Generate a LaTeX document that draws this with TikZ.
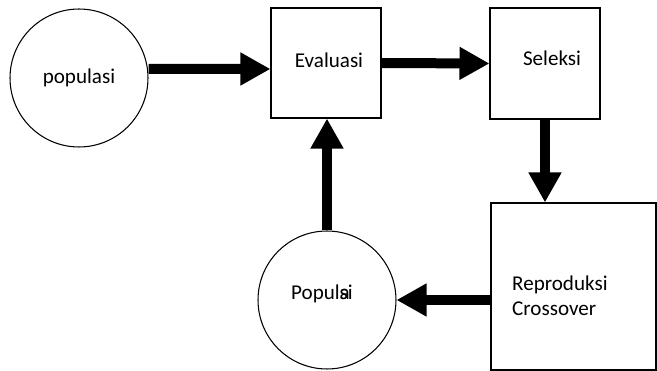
\documentclass[tikz,border=0pt]{standalone}
\usepackage{fontspec}
\setmainfont{Carlito}
\usetikzlibrary{arrows.meta,positioning}

\begin{document}
\begin{tikzpicture}[x=0.02cm,y=-0.02cm,
    font=\fontsize{12}{15}\selectfont,
    ring/.style={draw, circle, line width=0.6pt, minimum size=2.76cm, inner sep=0pt},
    box/.style={draw, rectangle, line width=0.6pt, inner sep=0pt},
    bigarrow/.style={line width=0.2cm, -{Triangle[length=0.6cm,width=0.62cm]}}]
    \useasboundingbox (0,0) rectangle (657,371);
    \node[ring] (pop) at (79,78) {populasi};
    \node[box, minimum width=2.2cm, minimum height=2.2cm] (eval) at (326,63) {};
    \node (evaltext) at (329,60) {Evaluasi};
    \node[box, minimum width=2.2cm, minimum height=2.22cm] (sel) at (545,63.5) {};
    \node (seltext) at (552,58) {Seleksi};
    \node[box, minimum width=3.3cm, minimum height=3.34cm] (repro) at (573.5,286.5) {};
    \node[align=left, anchor=west] (reprotext) at (506,296) {Reproduksi\\[-1pt]Crossover};
    \node[ring] (popul) at (327,300) {};
    \node (popultext) at (322,294) {Popul\makebox[0pt][l]{a}si};
    \draw[bigarrow] ([yshift=0.18cm]pop.east) -- ([yshift=-0.12cm]eval.west);
    \draw[bigarrow] (eval.east) -- (sel.west);
    \draw[bigarrow] (sel.south) -- (sel.south |- repro.north);
    \draw[bigarrow] (popul.east -| repro.west) -- (popul.east);
    \draw[bigarrow] (popul.north) -- (popul.north |- eval.south);
  \end{tikzpicture}
\end{document}
